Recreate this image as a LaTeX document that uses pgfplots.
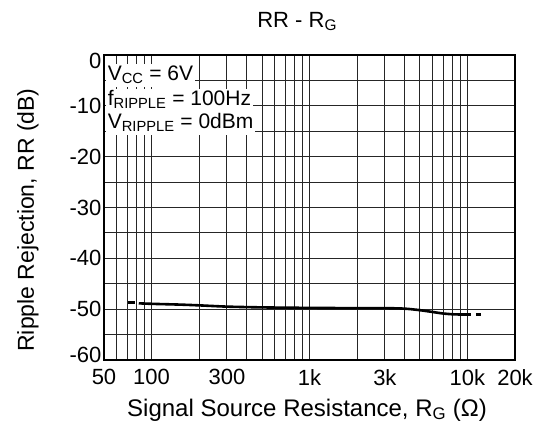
\documentclass[border=0pt]{standalone}
\usepackage{fontspec}
\setmainfont{Liberation Sans}
\usepackage{pgfplots}
\pgfplotsset{compat=1.18}
\begin{document}
\begin{tikzpicture}[x=1pt,y=1pt]
\useasboundingbox (-104,-76) rectangle (440,360);
\begin{axis}[
  at={(0,0)}, anchor=south west,
  scale only axis, width=411pt, height=305pt,
  xmode=log, xmin=50, xmax=20000,
  ymin=-60, ymax=0,
  xtick={50,100,300,1000,3000,10000,20000},
  xticklabels={50,100,300,1k,3k,10k,20k},
  minor xtick={60,70,80,90,200,400,500,600,700,800,900,2000,4000,5000,6000,7000,8000,9000},
  ytick={-60,-50,-40,-30,-20,-10,0},
  yticklabels={-60,-50,-40,-30,-20,-10,0},
  minor ytick={-55,-45,-35,-25,-15,-5},
  grid=both,
  major grid style={black!85, line width=0.9pt},
  minor grid style={black!85, line width=0.9pt},
  major tick length=0pt, minor tick length=0pt,
  axis line style={black, line width=1.6pt},
  tick label style={font=\fontsize{22}{26}\selectfont},
  xticklabel style={yshift=-6pt},
  yticklabel style={xshift=1pt, yshift={ifthenelse(\ticknum==0,5,ifthenelse(\ticknum==6,-6,0))*1pt}},
  title={RR - R\textsubscript{G}},
  title style={font=\fontsize{22}{26}\selectfont, at={(0.47,1.09)}, anchor=center},
  xlabel={Signal Source Resistance, R\textsubscript{G} (Ω)},
  xlabel style={font=\fontsize{24}{28}\selectfont, at={(0.494,-0.164)}, anchor=center},
  ylabel={Ripple Rejection, RR (dB)},
  ylabel style={font=\fontsize{23}{27}\selectfont, at={(-0.185,0.459)}, anchor=center},
  clip=false,
]
\addplot[black, line width=2.6pt] coordinates {(71,-48.7) (78.5,-48.7)};
\addplot[black, line width=2.6pt, smooth] coordinates {
  (83,-48.85) (100,-48.95) (150,-49.1) (200,-49.25) (300,-49.5) (500,-49.65)
  (1000,-49.75) (2000,-49.8) (3000,-49.8) (4000,-49.9) (5000,-50.2)
  (6000,-50.55) (7000,-50.85) (8000,-51.0) (9000,-51.05) (10500,-51.05)};
\addplot[black, line width=2.6pt] coordinates {(11300,-51.05) (12200,-51.05)};
\node[anchor=west, fill=white, inner xsep=2pt, inner ysep=1.5pt, text height=15pt, text depth=5pt,
      font=\fontsize{21}{25}\selectfont] at (axis description cs:0.004,0.934) {V\textsubscript{CC} = 6V};
\node[anchor=west, fill=white, inner xsep=2pt, inner ysep=1.5pt, text height=15pt, text depth=5pt,
      font=\fontsize{21}{25}\selectfont] at (axis description cs:0.004,0.852) {f\textsubscript{RIPPLE} = 100Hz};
\node[anchor=west, fill=white, inner xsep=2pt, inner ysep=1.5pt, text height=15pt, text depth=5pt,
      font=\fontsize{21}{25}\selectfont] at (axis description cs:0.004,0.775) {V\textsubscript{RIPPLE} = 0dBm};
\draw[black, line width=1.6pt] (rel axis cs:0,0) rectangle (rel axis cs:1,1);
\end{axis}
\end{tikzpicture}
\end{document}
